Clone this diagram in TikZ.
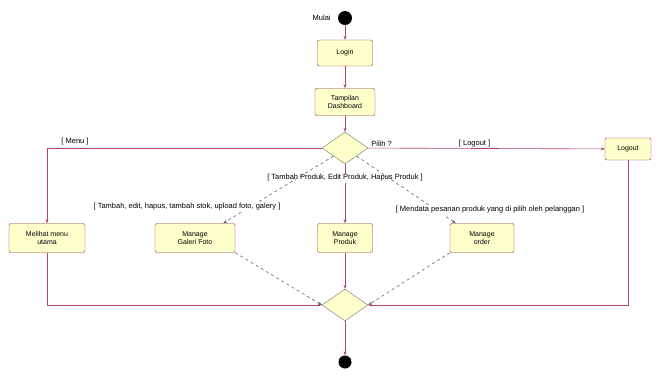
\documentclass[tikz,border=0pt]{standalone}
\usepackage{fontspec}
\setmainfont{Liberation Sans}
\usepackage{tikz}
\usetikzlibrary{arrows.meta,positioning,calc,shapes.geometric}
\definecolor{linered}{RGB}{176,70,100}
\definecolor{boxfill}{RGB}{255,255,204}
\definecolor{boxline}{RGB}{150,50,50}
\tikzset{
  act/.style={draw=boxline, rectangle, rounded corners=2pt, fill=boxfill, align=center, font=\fontsize{7}{8}\selectfont, inner sep=2pt},
  dec/.style={draw=black!55, diamond, fill=boxfill, minimum width=46pt, minimum height=32pt, inner sep=0pt},
  dot/.style={circle, fill=black, minimum size=14pt, inner sep=0pt},
  arr/.style={-{Stealth[length=4pt]}, draw=linered, semithick},
  darr/.style={-{Stealth[length=4pt]}, draw=black!60, dashed, semithick},
  lbl/.style={font=\fontsize{7.5}{9}\selectfont, inner sep=1pt},
}
\begin{document}
\begin{tikzpicture}[x=1pt,y=-1pt]
\useasboundingbox (0,0) rectangle (662,376);
\node[dot] (start) at (345,18) {};
\node[lbl, left=6pt of start] (mulai) {Mulai};
\node[act, minimum width=55pt, minimum height=26pt] (login) at (345,53) {Login};
\node[act, minimum width=60pt, minimum height=27pt] (dash) at (345,102) {Tampilan\\Dashboard};
\node[dec] (pilih) at (345,148) {};
\node[act, minimum width=46pt, minimum height=22pt] (logout) at (628,149) {Logout};
\node[act, minimum width=76pt, minimum height=29pt] (menu) at (47,238) {Melihat menu\\utama};
\node[act, minimum width=80pt, minimum height=29pt] (galeri) at (195,238) {Manage\\Galeri Foto};
\node[act, minimum width=55pt, minimum height=29pt] (produk) at (345,238) {Manage\\Produk};
\node[act, minimum width=64pt, minimum height=29pt] (order) at (482,238) {Manage\\order};
\node[dec] (gabung) at (345,305) {};
\node[dot, minimum size=13pt] (end) at (345,362) {};
\coordinate (kiriatas) at (47,148);
\coordinate (kiribawah) at (47,305);
\coordinate (kananbawah) at (logout.south |- gabung);
% alur utama
\draw[arr] (start) -- (login);
\draw[arr] (login) -- (dash);
\draw[arr] (dash) -- (pilih);
\draw[arr] (pilih) -- node[lbl, above, pos=0.45]{[ Logout ]} (logout);
\node[lbl, above right=0pt and 2pt of pilih.east] (tanya) {Pilih ?};
\draw[arr] (pilih.west) -- (kiriatas) -- (menu);
\node[lbl] (lmenu) at (75,142) {[ Menu ]};
\draw[arr] (pilih) -- (produk);
\node[lbl, fill=white] (lproduk) at (345,178) {[ Tambah Produk, Edit Produk, Hapus Produk ]};
\draw[darr] (pilih.south west) -- ($(galeri.north east)+(-12,0)$);
\node[lbl, fill=white] (lgaleri) at (187,207) {[ Tambah, edit, hapus, tambah stok, upload foto, galery ]};
\draw[darr] (pilih.south east) -- ($(order.north west)+(6,0)$);
\node[lbl, fill=white] (lorder) at (490,210) {[ Mendata pesanan produk yang di pilih oleh pelanggan ]};
% ke penggabungan
\draw[arr] (menu) -- (kiribawah) -- (gabung.west);
\draw[darr] (galeri.south east) -- (gabung.west);
\draw[arr] (produk) -- (gabung);
\draw[darr] (order.south west) -- (gabung.east);
\draw[arr] (logout) -- (kananbawah) -- (gabung.east);
\draw[arr] (gabung) -- (end);
\end{tikzpicture}
\end{document}
